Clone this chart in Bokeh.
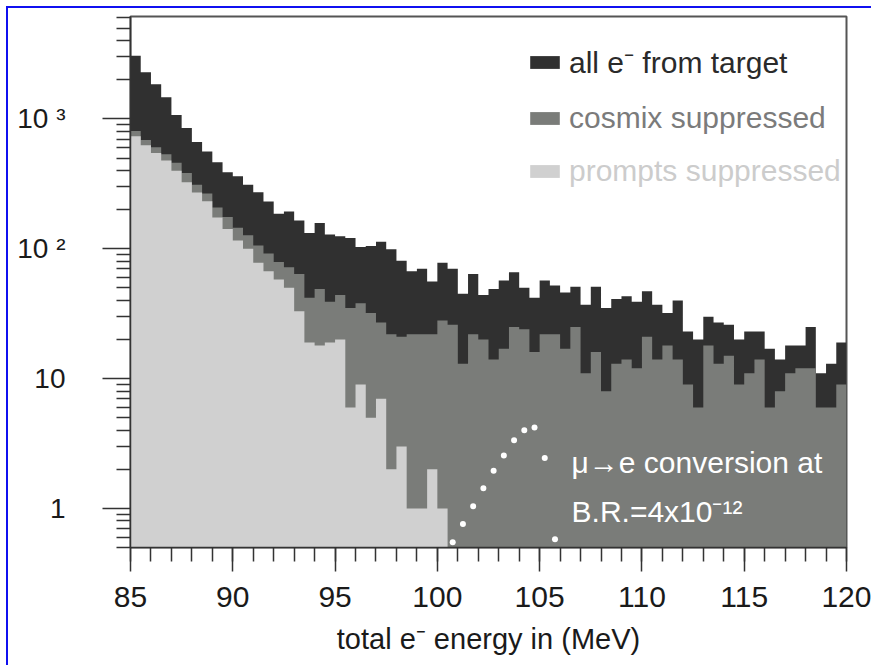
from bokeh.plotting import figure
from bokeh.models import Range1d, FixedTicker, Legend, LegendItem, Label
from bokeh.embed import file_html
from bokeh.resources import INLINE

# ---------------- data ----------------
bin_start = 85.0
bin_width = 0.5
n_bins = 70

all_e = [3070, 2290, 1850, 1470, 1070, 853, 663, 560, 464, 388,
         362, 311, 272, 231, 186, 194, 165, 132, 158, 129,
         125, 121, 103, 105, 113, 99, 81, 67, 70, 56,
         78, 70, 45, 64, 44, 49, 57, 66, 50, 42,
         57, 52, 46, 51, 37, 51, 35, 41, 43, 39,
         47, 37, 32, 40, 23, 20, 30, 27, 26, 20,
         23, 23, 17, 14, 18, 18, 25, 11, 13, 19]

cosmix = [806, 687, 605, 534, 459, 383, 311, 266, 208, 176,
          145, 127, 106, 92, 79, 72, 64, 42, 49, 39,
          44, 35, 38, 32, 27, 22, 21, 22, 22, 22,
          28, 26, 13, 22, 20, 14, 17, 25, 24, 16,
          22, 22, 17, 25, 11, 16, 8, 13, 14, 12,
          21, 14, 18, 14, 9, 6, 18, 13, 15, 9,
          11, 14, 6, 8, 11, 12, 12, 6, 6, 9]

prompts = [735, 627, 546, 478, 398, 325, 271, 232, 174, 142,
           116, 100, 78, 67, 58, 50, 33, 19, 18, 19,
           20, 6, 9, 5, 7, 2, 3, 1, 1, 2,
           1, 0, 0, 0, 0, 0, 0, 0, 0, 0,
           0, 0, 0, 0, 0, 0, 0, 0, 0, 0,
           0, 0, 0, 0, 0, 0, 0, 0, 0, 0,
           0, 0, 0, 0, 0, 0, 0, 0, 0, 0]

signal_energy = [100.75, 101.25, 101.75, 102.25, 102.75, 103.25,
                 103.75, 104.25, 104.75, 105.25, 105.75]
signal_counts = [0.55, 0.76, 1.04, 1.43, 1.95, 2.56, 3.35, 4.0, 4.2, 2.44, 0.58]

x_major = [85, 90, 95, 100, 105, 110, 115, 120]
x_minor = list(range(85, 121))
y_major = [1, 10, 100, 1000]
y_labels = {1: "1", 10: "10", 100: "10 \u00b2", 1000: "10 \u00b3"}
y_minor = [m * 10 ** e for e in range(-1, 4) for m in range(2, 10)
           if 0.5 <= m * 10 ** e <= 6150]

series_labels = ["all e\u207b from target", "cosmix suppressed", "prompts suppressed"]
note_line1 = "\u03bc\u2192e conversion at"
note_line2 = "B.R.=4x10\u207b\u00b9\u00b2"
x_title = "total e\u207b energy in (MeV)"

# ---------------- styles ----------------
FONT = "Liberation Sans"
C_DARK = "#303030"
C_MID = "#7a7c79"
C_LIGHT = "#d0d0d0"
Y_FLOOR = 0.5

left = [bin_start + i * bin_width for i in range(n_bins)]
right = [l + bin_width for l in left]

p = figure(width=865, height=659, output_backend="svg", toolbar_location=None,
           y_axis_type="log", x_range=Range1d(85, 120), y_range=Range1d(Y_FLOOR, 6150),
           min_border_left=122, min_border_right=27, min_border_top=8, min_border_bottom=120,
           styles={"margin-top": "6px", "margin-left": "6px",
                   "border-top": "2px solid #1010f0", "border-left": "2px solid #1010f0",
                   "border-right": "0px none", "border-bottom": "0px none"})
p.grid.visible = False
p.outline_line_color = "#555555"
p.outline_line_width = 2
p.background_fill_color = "white"
p.border_fill_color = "white"


def step_outline(values):
    """Histogram outline (stepped polygon) built from the bin edges and counts."""
    used = [i for i, v in enumerate(values) if v > 0]
    last = used[-1]
    xs, ys = [left[0]], [Y_FLOOR]
    for i in range(last + 1):
        xs += [left[i], right[i]]
        ys += [values[i], values[i]]
    xs.append(right[last])
    ys.append(Y_FLOOR)
    return xs, ys


def hist(values, color):
    xs, ys = step_outline(values)
    return p.patch(xs, ys, fill_color=color, line_color=None)


r_all = hist(all_e, C_DARK)
r_cos = hist(cosmix, C_MID)
r_pro = hist(prompts, C_LIGHT)

p.scatter(signal_energy, signal_counts, size=6, fill_color="white", line_color=None)

# legends (one per entry so each label keeps its own colour)
legend_specs = [(r_all, series_labels[0], "#2a2a2a", (396, 465)),
                (r_cos, series_labels[1], "#7b7b7b", (396, 412)),
                (r_pro, series_labels[2], "#cccccc", (396, 359))]
for r, lab, col, loc in legend_specs:
    lg = Legend(items=[LegendItem(label=lab, renderers=[r])], location=loc,
                glyph_width=37, glyph_height=16, label_standoff=6,
                padding=0, margin=0, spacing=0,
                border_line_alpha=0, background_fill_alpha=0,
                label_text_font=FONT, label_text_font_size="30px", label_text_color=col)
    p.add_layout(lg)

p.add_layout(Label(x=106.56, y=2.27, text=note_line1, text_color="white",
                   text_font=FONT, text_font_size="30px", text_baseline="alphabetic"))
p.add_layout(Label(x=106.56, y=0.95, text=note_line2, text_color="white",
                   text_font=FONT, text_font_size="30px", text_baseline="alphabetic"))

# axes
xa = p.xaxis[0]
xa.ticker = FixedTicker(ticks=x_major, minor_ticks=x_minor)
xa.major_tick_out = 24
xa.minor_tick_out = 14
xa.major_tick_in = 0
xa.minor_tick_in = 0
xa.major_label_standoff = 15
xa.major_label_text_font = FONT
xa.major_label_text_font_size = "30px"
xa.major_label_text_color = "#1a1a1a"
xa.axis_label = x_title
xa.axis_label_text_font = FONT
xa.axis_label_text_font_size = "29px"
xa.axis_label_text_font_style = "normal"
xa.axis_label_text_color = "#1a1a1a"
xa.axis_label_standoff = 13
xa.axis_line_color = "#333333"
xa.axis_line_width = 1.5
xa.major_tick_line_color = "#333333"
xa.minor_tick_line_color = "#333333"
xa.major_tick_line_width = 1.5
xa.minor_tick_line_width = 1.5

ya = p.yaxis[0]
ya.ticker = FixedTicker(ticks=y_major, minor_ticks=y_minor)
ya.major_label_overrides = y_labels
ya.major_tick_out = 28
ya.minor_tick_out = 14
ya.major_tick_in = 0
ya.minor_tick_in = 0
ya.major_label_standoff = 37
ya.major_label_text_font = FONT
ya.major_label_text_font_size = "28px"
ya.major_label_text_color = "#1a1a1a"
ya.axis_line_color = "#333333"
ya.axis_line_width = 1.5
ya.major_tick_line_color = "#333333"
ya.minor_tick_line_color = "#333333"
ya.major_tick_line_width = 1.5
ya.minor_tick_line_width = 1.5

open("out.html", "w").write(file_html(p, INLINE))
